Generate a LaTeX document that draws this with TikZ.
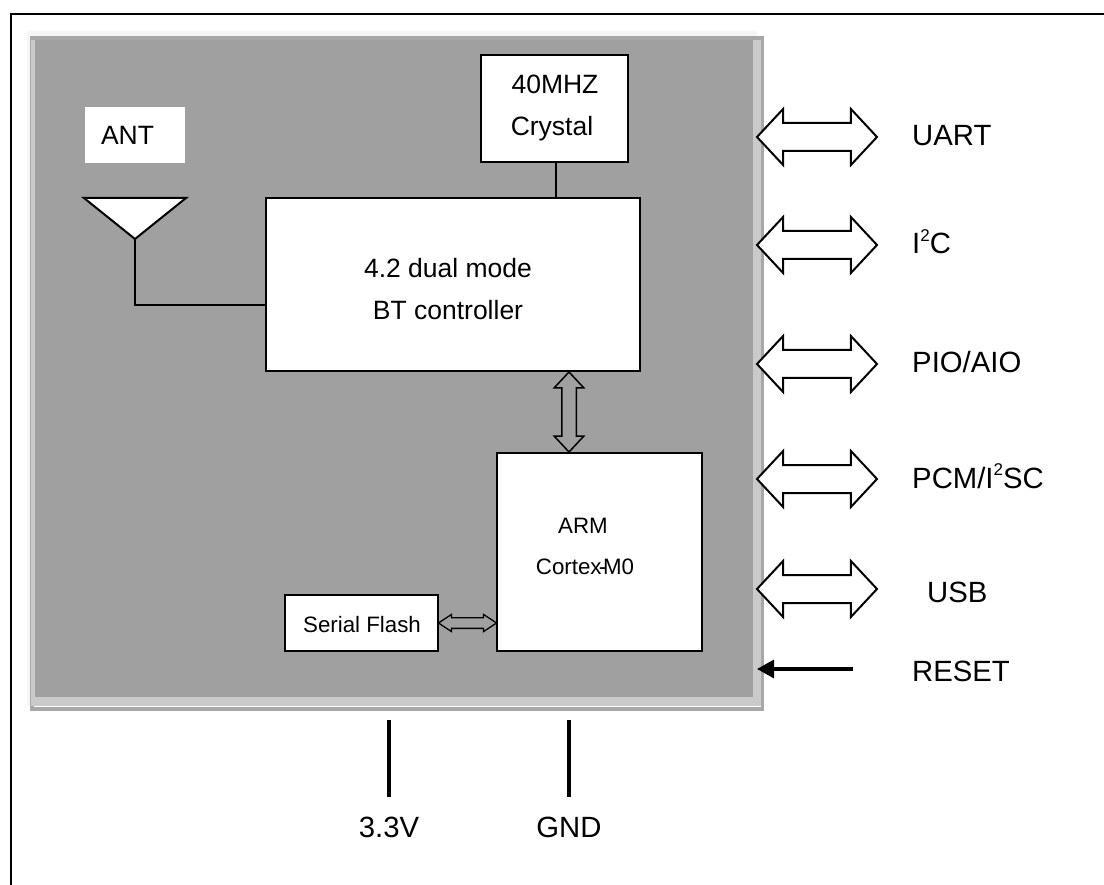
\documentclass[tikz,border=0pt]{standalone}
\usepackage{fontspec}
\setmainfont{Liberation Sans}
\usetikzlibrary{arrows.meta,shapes.arrows}
\definecolor{ChipGray}{RGB}{160,160,160}
\definecolor{EdgeGray}{RGB}{202,202,202}
\definecolor{RimGray}{RGB}{168,168,168}
\definecolor{HaloGray}{RGB}{246,246,246}
\newcommand{\squared}{\raisebox{.42em}{\fontsize{17}{17}\selectfont 2}}
\tikzset{
	block/.style={draw=black,fill=white,line width=2pt,inner sep=0pt},
	busarrow/.style={double arrow,draw=black,fill=white,line width=2pt,inner sep=0pt,inner ysep=13pt,
		minimum height=120pt,double arrow head extend=14pt,double arrow tip angle=94},
	midarrow/.style={double arrow,draw=black,fill=none,line width=1.5pt,inner sep=0pt,inner ysep=6.5pt,rotate=90,
		minimum height=80pt,double arrow head extend=7.5pt,double arrow tip angle=86},
	tinyarrow/.style={double arrow,draw=black,fill=none,line width=1.3pt,inner sep=0pt,inner ysep=4.7pt,
		minimum height=58pt,double arrow head extend=3.3pt,double arrow tip angle=67},
	wire/.style={draw=black,line width=2pt},
	rail/.style={draw=black,line width=3.2pt},
	pinlabel/.style={anchor=base west,inner sep=0pt,font=\fontsize{29.3}{29.3}\selectfont},
	boxtext/.style={anchor=base,inner sep=0pt,font=\fontsize{26.5}{26.5}\selectfont},
	smalltext/.style={anchor=base,inner sep=0pt,font=\fontsize{22.3}{22.3}\selectfont},
}
\begin{document}
\begin{tikzpicture}[x=1pt,y=-1pt]
	\useasboundingbox (0,0) rectangle (1104,885);
	% frame, top and left only
	\draw[line width=2.4pt] (11,885) |- (1104,14);
	% chip body
	\fill[HaloGray] (27,31) rectangle (757,706);
	\fill[RimGray] (30,36) rectangle (764,711);
	\fill[EdgeGray] (31,40) rectangle (761,706);
	\fill[white] (34,706) rectangle (761,707);
	\fill[ChipGray] (35,40) rectangle (753,697);

	\node[block,minimum width=147pt,minimum height=107pt] (crystal) at (554.5,108.5) {};
	\node[block,minimum width=374pt,minimum height=173pt] (bt) at (453,284.5) {};
	\node[block,minimum width=205pt,minimum height=198pt] (arm) at (599.5,552) {};
	\node[block,minimum width=153pt,minimum height=56pt] (flash) at (361.5,623) {};
	\node[fill=white,minimum width=100pt,minimum height=56pt,inner sep=0pt] (antbox) at (135,135) {};
	\node[boxtext] (anttext) at (127.5,145) {ANT};
	\node[boxtext] (xtal1) at (555,94) {40MHZ};
	\node[boxtext] (xtal2) at (552,136) {Crystal};
	\node[boxtext] (bt1) at (448,278) {4.2 dual mode};
	\node[boxtext] (bt2) at (448,320) {BT controller};
	\node[smalltext] (arm1) at (583,533) {ARM};
	\node[smalltext] (arm2) at (585,574) {Cortex\kern-.12em-\kern-.15em M0};
	\node[smalltext] (flashtext) at (362,632) {Serial Flash};

	% antenna
	\coordinate (antL) at (84,198);
	\coordinate (antR) at (186,198);
	\coordinate (antT) at (135,239);
	\draw[wire,fill=white,line join=miter] (antL)--(antR)--(antT)--cycle;
	\draw[wire] (antT)|-(bt.west|-0,305);
	\draw[wire] (crystal.south-|556,0)--(bt.north-|556,0);
	\node[midarrow] (btarm) at (569,412) {};
	\node[tinyarrow] (flasharm) at (467.5,623) {};

	% pins
	\node[busarrow] (uart) at (817,137) {};
	\node[busarrow] (iic) at (817,245) {};
	\node[busarrow] (pio) at (817,364) {};
	\node[busarrow] (pcm) at (817,479) {};
	\node[busarrow] (usb) at (817,589) {};
	\node[pinlabel] (uarttext) at (912,146) {UART};
	\node[pinlabel] (iictext) at (912,254) {I\squared C};
	\node[pinlabel] (piotext) at (912,373) {PIO/AIO};
	\node[pinlabel] (pcmtext) at (912,488) {PCM/I\squared SC};
	\node[pinlabel] (usbtext) at (927,602) {USB};
	\node[pinlabel] (resettext) at (912,681) {RESET};
	\coordinate (resetS) at (853,669);
	\coordinate (resetE) at (757,669);
	\draw[rail,-{Triangle[length=17pt,width=18pt]}] (resetS)--(resetE);

	% supply
	\node[pinlabel,anchor=base] (vcctext) at (389,837) {3.3V};
	\node[pinlabel,anchor=base] (gndtext) at (569,837) {GND};
	\coordinate (vcctop) at (389,720);
	\coordinate (gndtop) at (569,720);
	\draw[rail] (vcctop)--(389,797);
	\draw[rail] (gndtop)--(569,797);
\end{tikzpicture}
\end{document}
